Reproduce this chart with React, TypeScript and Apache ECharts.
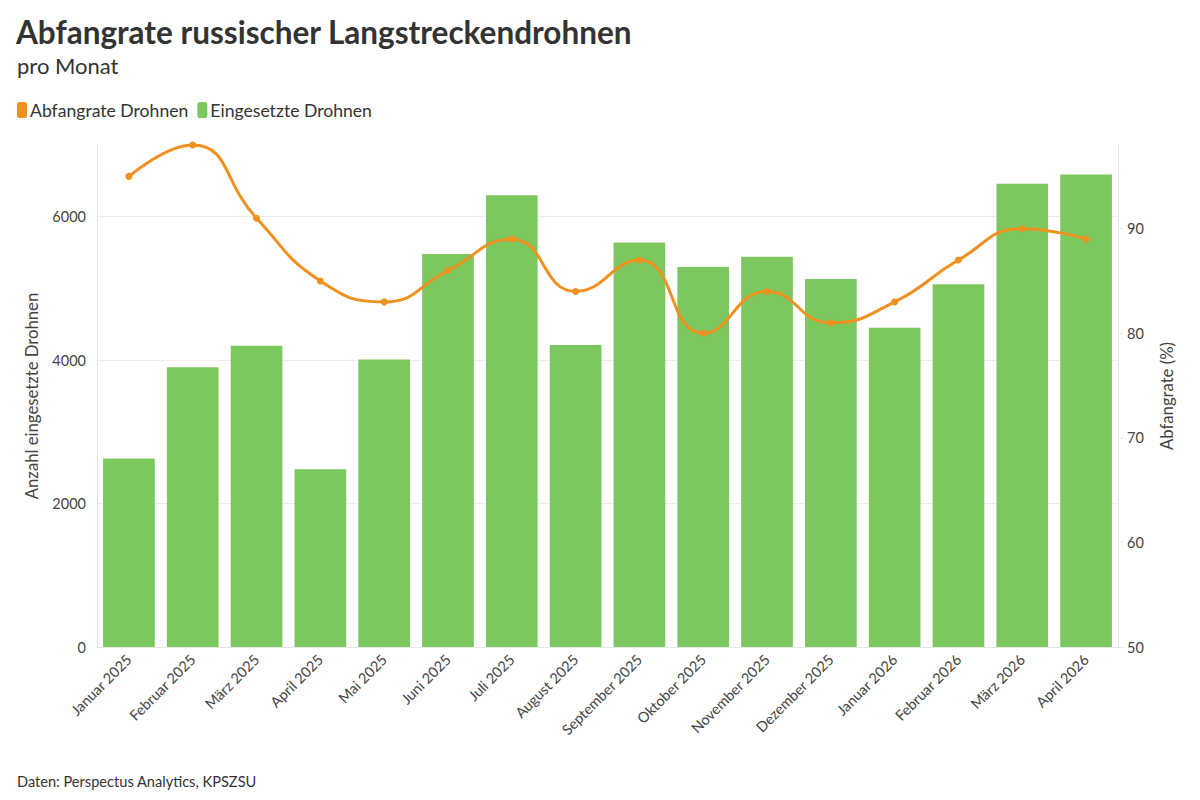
import React, { useEffect, useRef } from "react";
import * as echarts from "echarts";

const categories = [
  "Januar 2025", "Februar 2025", "März 2025", "April 2025", "Mai 2025", "Juni 2025",
  "Juli 2025", "August 2025", "September 2025", "Oktober 2025", "November 2025",
  "Dezember 2025", "Januar 2026", "Februar 2026", "März 2026", "April 2026",
];
const eingesetzteDrohnen = [2630, 3900, 4200, 2480, 4010, 5480, 6300, 4210, 5640, 5300, 5440, 5130, 4450, 5060, 6460, 6590];
const abfangrate = [95, 98, 91, 85, 83, 86, 89, 84, 87, 80, 84, 81, 83, 87, 90, 89];
const leftTicks = [0, 2000, 4000, 6000];
const rightTicks = [50, 60, 70, 80, 90];

const FONT = "Lato, 'Open Sans', sans-serif";
const TXT = "#444";

export default function App() {
  const ref = useRef<HTMLDivElement>(null);
  useEffect(() => {
    document.body.style.margin = "0";
    const chart = echarts.init(ref.current!, null, { renderer: "svg" });
    chart.setOption({
      animation: false,
      backgroundColor: "#fff",
      textStyle: { fontFamily: FONT },
      title: [
        {
          text: "Abfangrate russischer Langstreckendrohnen",
          left: 11, top: 11,
          textStyle: { fontFamily: FONT, fontSize: 31.5, fontWeight: "bold", color: "#333" },
        },
        {
          text: "pro Monat",
          left: 12, top: 49,
          textStyle: { fontFamily: FONT, fontSize: 22, fontWeight: "normal", color: "#333" },
        },
        {
          text: "Daten: Perspectus Analytics, KPSZSU",
          left: 12, top: 769,
          textStyle: { fontFamily: FONT, fontSize: 14.6, fontWeight: "normal", color: "#333" },
        },
      ],
      legend: {
        left: 12, top: 96,
        icon: "roundRect",
        itemWidth: 10, itemHeight: 16, itemGap: 9,
        textStyle: { fontFamily: FONT, fontSize: 17.6, color: "#333", padding: [0, 0, 0, -2] },
        data: ["Abfangrate Drohnen", "Eingesetzte Drohnen"],
      },
      grid: { left: 97, right: 82, top: 145, bottom: 153, containLabel: false },
      xAxis: {
        type: "category",
        data: categories,
        axisLine: { lineStyle: { color: "#e6e6e6" } },
        axisTick: { alignWithLabel: true, length: 6, lineStyle: { color: "#e6e6e6" } },
        axisLabel: { rotate: 45, fontSize: 14.5, color: TXT, fontFamily: FONT, margin: 10, interval: 0 },
      },
      yAxis: [
        {
          type: "value",
          min: 0, max: 7000, interval: 2000,
          name: "Anzahl eingesetzte Drohnen",
          nameLocation: "middle", nameGap: 57,
          nameTextStyle: { fontSize: 16.7, color: TXT, fontFamily: FONT },
          axisLine: { show: true, lineStyle: { color: "#e6e6e6" } },
          axisTick: { show: false },
          axisLabel: {
            customValues: leftTicks, fontSize: 14.5, color: TXT, fontFamily: FONT, margin: 11,
            formatter: (v: number) => String(v),
          },
          splitLine: { show: true, showMaxLine: false, lineStyle: { color: "#ececec" } },
        },
        {
          type: "value",
          min: 50, max: 98,
          position: "right",
          name: "Abfangrate (%)",
          nameLocation: "middle", nameGap: 40,
          nameTextStyle: { fontSize: 16.7, color: TXT, fontFamily: FONT },
          axisLine: { show: true, lineStyle: { color: "#e6e6e6" } },
          axisTick: { show: true, customValues: rightTicks, length: 5, lineStyle: { color: "#e6e6e6" } },
          axisLabel: { customValues: rightTicks, fontSize: 14.5, color: TXT, fontFamily: FONT, margin: 9 },
          splitLine: { show: false },
        },
      ],
      series: [
        {
          name: "Eingesetzte Drohnen",
          type: "bar",
          yAxisIndex: 0,
          data: eingesetzteDrohnen,
          barCategoryGap: "19%",
          itemStyle: { color: "#7cc85e" },
          z: 1,
        },
        {
          name: "Abfangrate Drohnen",
          type: "line",
          yAxisIndex: 1,
          data: abfangrate,
          smooth: 0.5,
          symbol: "circle",
          symbolSize: 7,
          lineStyle: { color: "#f0901e", width: 3 },
          itemStyle: { color: "#f0901e" },
          z: 3,
        },
      ],
    });
    return () => chart.dispose();
  }, []);
  return <div ref={ref} style={{ width: 1200, height: 800 }} />;
}
